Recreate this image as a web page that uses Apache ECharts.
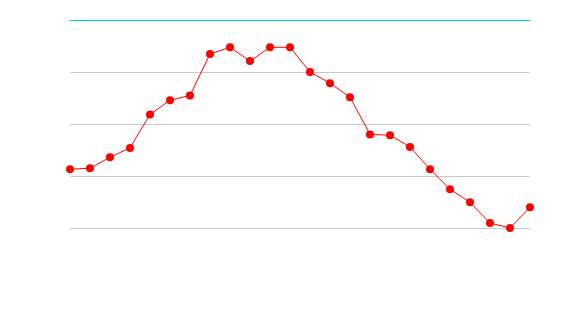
<!DOCTYPE html>
<html>
<head>
<meta charset="utf-8">
<script src="https://cdn.jsdelivr.net/npm/echarts@6/dist/echarts.min.js"></script>
<style>html,body{margin:0;padding:0;background:#fff;}#c{width:570px;height:320px;}</style>
</head>
<body>
<div id="c"></div>
<script>
var categories = ['0','1','2','3','4','5','6','7','8','9','10','11','12','13','14','15','16','17','18','19','20','21','22','23'];
var values = [22.6, 23.0, 27.2, 30.8, 43.7, 49.1, 51.0, 66.9, 69.5, 64.2, 69.5, 69.5, 60.0, 55.7, 50.3, 36.0, 35.7, 31.2, 22.6, 14.9, 9.9, 1.9, 0, 8.0];

var chart = echarts.init(document.getElementById('c'), null, {renderer: 'canvas'});
chart.setOption({
  animation: false,
  backgroundColor: '#ffffff',
  grid: {left: 70, right: 40, top: 20, bottom: 92, containLabel: false},
  xAxis: {
    type: 'category',
    position: 'top',
    data: categories,
    boundaryGap: false,
    axisLine: {show: true, onZero: false, lineStyle: {color: '#00cccc', width: 1}},
    axisTick: {show: false},
    axisLabel: {show: false},
    splitLine: {show: false}
  },
  yAxis: {
    type: 'value',
    min: 0,
    max: 80,
    interval: 20,
    axisLine: {show: false},
    axisTick: {show: false},
    axisLabel: {show: false},
    splitLine: {show: true, lineStyle: {color: '#c8c8c8', width: 1}}
  },
  series: [{
    type: 'line',
    data: values,
    symbol: 'circle',
    symbolSize: 8,
    showAllSymbol: true,
    lineStyle: {color: '#ff0000', width: 1},
    itemStyle: {color: '#ff0000', borderWidth: 0}
  }]
});
</script>
</body>
</html>
